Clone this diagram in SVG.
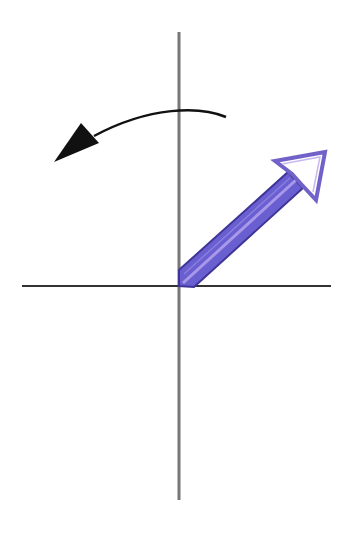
<svg xmlns="http://www.w3.org/2000/svg" width="341" height="534" viewBox="0 0 341 534">
<style>
.axis{fill:none}
</style>
<rect width="341" height="534" fill="#fff"/>
<g id="axes">
<line class="axis" x1="179" y1="32" x2="179" y2="500" style="stroke:#777;stroke-width:3"/>
<line class="axis" x1="22" y1="286" x2="331" y2="286" style="stroke:#333;stroke-width:2"/>
</g>
<g id="vector">
<path d="M179,286 L179,270 L288,172 L303,188 L194,287 Z" fill="#6a5fd0" stroke="#3f3598" stroke-width="2"/>
<path d="M183,283 L296,180" stroke="#a898ea" stroke-width="3" fill="none"/>
<path d="M184,274 L290,178" stroke="#8a7de0" stroke-width="1.5" fill="none"/>
<path d="M275,161 L325,152 L316,200 L302,185 L292,174 Z" fill="#fff" stroke="#7062c8" stroke-width="4" stroke-linejoin="miter"/>
<path d="M282,164 L320,157 L313,192" fill="none" stroke="#c9b8f0" stroke-width="1.5"/>
</g>
<g id="rotation">
<path d="M226,117 C200,106 150,106 94,136" fill="none" stroke="#111" stroke-width="2.5"/>
<path d="M54,162 L81,123 L99,143 Z" fill="#111"/>
</g>
</svg>
